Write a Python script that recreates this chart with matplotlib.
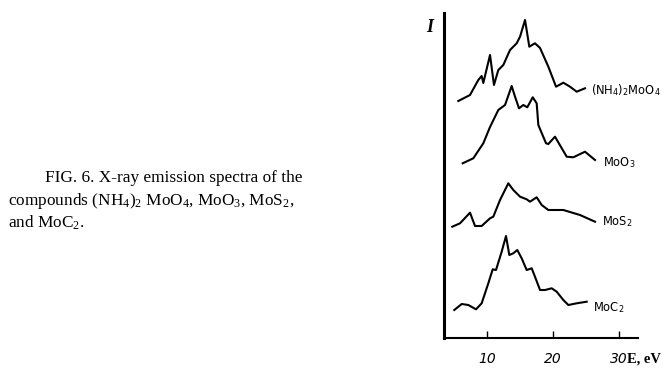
import matplotlib
matplotlib.use("Agg")
import matplotlib.pyplot as plt

plt.rcParams['mathtext.fontset'] = 'custom'
plt.rcParams['mathtext.rm'] = 'Liberation Serif'
plt.rcParams['mathtext.it'] = 'Liberation Serif:italic'
plt.rcParams['mathtext.sf'] = 'DejaVu Sans'

# energies (eV) and intensities (arbitrary, stacked offsets)
e_nh4 = [5.64, 7.42, 8.68, 9.19, 9.44, 10.46, 11.06, 11.72, 12.48, 13.50, 14.51,
         15.02, 15.78, 16.43, 17.29, 18.06, 19.32, 20.49, 21.60, 22.61, 23.63, 24.89]
i_nh4 = [237, 243, 258, 262, 255, 283, 253, 268, 273, 288, 294.7,
         301.3, 318, 291.3, 294.7, 290, 271.3, 251.3, 255.3, 251.3, 246.3, 249.7]

e_moo3 = [6.31, 7.92, 9.44, 10.46, 11.72, 12.74, 13.75, 14.26, 14.86, 15.52, 16.12,
          16.95, 17.55, 17.80, 18.97, 19.32, 20.33, 22.11, 23.12, 24.89, 26.41]
i_moo3 = [174.7, 179.7, 194.7, 211, 228, 233, 252, 241.3, 229.7, 233, 230.7,
          240.7, 234.7, 213, 194.7, 194, 201.3, 181.3, 180.7, 186.3, 178]

e_mos2 = [4.73, 5.90, 7.42, 8.18, 9.19, 10.46, 10.96, 11.98, 13.24, 14.00, 15.02,
          16.03, 16.53, 17.55, 18.31, 19.32, 21.60, 24.13, 26.41]
i_mos2 = [111.3, 114.7, 125.3, 112, 112, 119.7, 121.3, 138, 154.7, 148, 141.3,
          138.7, 136.3, 140.7, 133, 128, 128, 123, 116.3]

e_moc2 = [5.03, 6.16, 7.16, 8.33, 9.19, 10.20, 10.87, 11.37, 12.23, 12.89, 13.39,
          14.00, 14.60, 15.27, 16.03, 16.79, 17.29, 18.06, 18.82, 19.83, 20.59,
          21.60, 22.36, 23.63, 25.15]
i_moc2 = [28, 34, 33, 28.7, 34.7, 54.7, 68.7, 68, 86.3, 102, 83,
          84.7, 88, 79.7, 68, 69.7, 61.3, 48, 48, 49.7, 46.3,
          38, 33, 34.7, 36.3]

curves = [
    (e_nh4, i_nh4, r'(NH$_{\mathsf{4}}$)$_{\mathsf{2}}$MoO$_{\mathsf{4}}$', 25.76, 248),
    (e_moo3, i_moo3, r'MoO$_{\mathsf{3}}$', 27.58, 175),
    (e_mos2, i_mos2, r'MoS$_{\mathsf{2}}$', 27.48, 116),
    (e_moc2, i_moc2, r'MoC$_{\mathsf{2}}$', 26.06, 30),
]

fig = plt.figure(figsize=(6.64, 3.69), dpi=100)
ax = fig.add_axes([0.6687, 0.084, 0.2922, 0.8808])

for e, i, name, lx, ly in curves:
    ax.plot(e, i, color='black', lw=1.5, solid_joinstyle='round')
    ax.text(lx, ly, name, fontsize=8.3, family='DejaVu Sans', va='center', ha='left')

ax.set_xlim(3.47, 32.95)
ax.set_ylim(0, 325)
ax.spines['top'].set_visible(False)
ax.spines['right'].set_visible(False)
ax.spines['left'].set_linewidth(2.2)
ax.spines['bottom'].set_linewidth(1.5)
ax.set_yticks([])
ax.set_xticks([10, 20, 30])
ax.tick_params(axis='x', direction='in', length=5, width=1, pad=10)
for t in ax.get_xticklabels():
    t.set_fontstyle('italic')
    t.set_fontsize(10)

fig.text(430 / 664, 1 - 27 / 369, 'I', fontsize=13, family='Liberation Serif',
         style='italic', weight='bold', ha='center', va='center')
fig.text(627 / 664, 1 - 363 / 369, 'E, eV', fontsize=10.5, family='Liberation Serif',
         weight='bold', ha='left', va='baseline')

cap = dict(fontsize=12.4, family='Liberation Serif', va='baseline', ha='left')
fig.text(45 / 664, 1 - 182 / 369, 'FIG. 6. X-ray emission spectra of the', **cap)
fig.text(8 / 664, 1 - 205 / 369, r'compounds (NH$_4$)$_2$ MoO$_4$, MoO$_3$, MoS$_2$,', **cap)
fig.text(8 / 664, 1 - 228 / 369, r'and MoC$_2$.', **cap)

fig.savefig('out.png', dpi=100)
